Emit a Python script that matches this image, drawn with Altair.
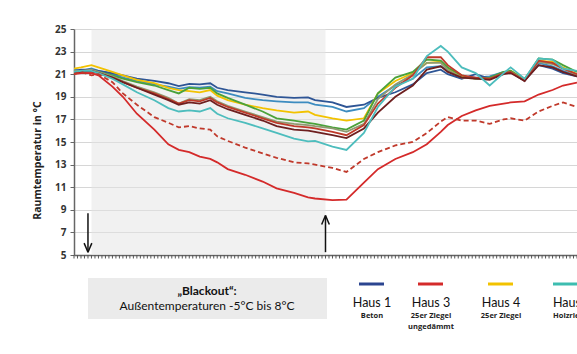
import altair as alt
import pandas as pd

# time index (hours) and room temperatures (°C)
hours = [0, 2, 5, 7, 11, 14, 18, 23, 27, 30, 33, 36, 39, 41, 44, 49, 54, 58, 63, 67,
         69, 74, 78, 83, 87, 92, 97, 101, 105, 107, 111, 115, 119, 123, 125, 129, 133, 137, 140, 144]

haus1 = [21.3, 21.4, 21.4, 21.3, 21.1, 20.9, 20.6, 20.4, 20.2, 19.95, 20.15, 20.1, 20.2, 19.8, 19.6, 19.4, 19.2, 19.0, 18.9, 18.95,
         18.7, 18.5, 18.1, 18.3, 18.9, 19.4, 20.1, 21.1, 21.4, 21.0, 20.6, 21.0, 20.6, 21.1, 21.2, 20.5, 21.8, 21.5, 21.1, 20.8]
hellblau = [21.4, 21.3, 21.5, 21.3, 21.0, 20.7, 20.4, 20.1, 19.9, 19.7, 19.85, 19.8, 19.9, 19.5, 19.3, 18.9, 18.7, 18.6, 18.5, 18.5,
            18.3, 18.1, 17.7, 18.0, 19.0, 20.0, 20.6, 21.6, 21.7, 21.3, 20.8, 20.7, 20.8, 21.2, 21.2, 20.4, 22.0, 21.7, 21.3, 20.9]
gelb = [21.5, 21.6, 21.8, 21.6, 21.2, 20.9, 20.5, 20.2, 19.8, 19.6, 19.5, 19.4, 19.6, 19.1, 18.7, 18.3, 18.0, 17.8, 17.6, 17.7,
        17.4, 17.1, 16.9, 17.1, 19.3, 20.4, 21.1, 22.0, 22.1, 21.5, 20.8, 20.6, 20.6, 21.1, 21.3, 20.6, 22.2, 22.1, 21.6, 21.0]
gruen = [21.2, 21.3, 21.3, 21.2, 20.9, 20.6, 20.3, 20.0, 19.6, 19.3, 19.8, 19.7, 19.8, 19.3, 18.9, 18.3, 17.7, 17.1, 16.9, 16.7,
         16.6, 16.3, 16.1, 16.9, 19.3, 20.7, 21.2, 22.3, 22.2, 21.6, 20.9, 20.6, 20.7, 21.2, 21.3, 20.5, 22.4, 22.3, 21.8, 21.2]
oliv = [21.3, 21.3, 21.4, 21.2, 20.8, 20.4, 19.9, 19.4, 18.9, 18.4, 18.8, 18.7, 19.0, 18.6, 18.2, 17.7, 17.2, 16.8, 16.6, 16.5,
        16.4, 16.2, 15.9, 16.6, 18.8, 20.1, 21.0, 22.0, 22.0, 21.4, 20.7, 20.6, 20.6, 21.1, 21.2, 20.5, 22.1, 21.9, 21.5, 20.9]
rotbraun = [21.1, 21.2, 21.2, 21.1, 20.7, 20.3, 19.8, 19.3, 18.8, 18.4, 18.7, 18.6, 18.9, 18.5, 18.1, 17.6, 17.1, 16.7, 16.4, 16.3,
            16.2, 15.9, 15.6, 16.5, 18.4, 19.8, 20.9, 22.5, 22.5, 21.8, 20.9, 20.7, 20.6, 21.1, 21.2, 20.4, 22.2, 22.0, 21.5, 21.0]
dunkelrot = [21.2, 21.2, 21.3, 21.1, 20.7, 20.3, 19.8, 19.2, 18.7, 18.3, 18.5, 18.4, 18.7, 18.3, 17.9, 17.4, 16.9, 16.4, 16.1, 16.0,
             15.9, 15.6, 15.35, 16.2, 17.6, 19.0, 20.0, 21.4, 21.7, 21.2, 20.7, 20.6, 20.5, 21.0, 21.1, 20.4, 21.8, 21.6, 21.2, 20.8]
tuerkis = [21.2, 21.3, 21.3, 21.1, 20.6, 20.1, 19.4, 18.7, 18.0, 17.7, 17.8, 17.7, 18.0, 17.5, 17.1, 16.7, 16.2, 15.8, 15.3, 15.05,
           15.1, 14.6, 14.3, 15.8, 18.1, 19.9, 20.6, 22.6, 23.5, 23.0, 21.6, 21.1, 20.0, 21.1, 21.6, 20.6, 22.4, 22.3, 21.5, 21.3]
haus3 = [21.0, 21.1, 21.1, 20.9, 19.9, 19.0, 17.5, 16.1, 14.8, 14.3, 14.1, 13.7, 13.5, 13.2, 12.6, 12.1, 11.5, 10.9, 10.5, 10.1,
         10.0, 9.85, 9.9, 11.4, 12.6, 13.5, 14.1, 14.8, 15.9, 16.5, 17.3, 17.8, 18.2, 18.4, 18.5, 18.6, 19.2, 19.6, 20.0, 20.25]
gestrichelt = [21.0, 21.2, 20.9, 21.0, 20.3, 19.3, 18.3, 17.2, 16.7, 16.3, 16.4, 16.2, 16.1, 15.5, 15.1, 14.5, 14.0, 13.6, 13.2, 13.1,
               13.0, 12.7, 12.35, 13.5, 14.1, 14.7, 15.0, 15.8, 16.8, 17.2, 16.9, 16.9, 16.6, 17.0, 17.1, 16.9, 17.7, 18.2, 18.5, 18.1]

solid_names = ["Hellblau", "Haus 1", "Gelb", "Grün", "Oliv", "Rotbraun", "Dunkelrot", "Türkis", "Haus 3"]
solid_values = [hellblau, haus1, gelb, gruen, oliv, rotbraun, dunkelrot, tuerkis, haus3]
solid_colors = ["#3d8cc0", "#2e5595", "#f2c200", "#4aa23a", "#8f9a70", "#bf3a2a", "#6e1f1f", "#4dbdbd", "#d42a2a"]

blackout_start, blackout_end = 5, 72
arrow_down_hour, arrow_up_hour = 4, 72
tick_hours = list(range(0, 145))

legend_names = ["Haus 1", "Haus 3", "Haus 4", "Haus 5"]
legend_sub1 = ["Beton", "25er Ziegel", "25er Ziegel", "Holzriegel"]
legend_sub2 = ["", "ungedämmt", "", ""]
legend_colors = ["#2b4590", "#d42a2a", "#f2c200", "#3dbdb0"]

rows = []
for n, vals in zip(solid_names, solid_values):
    for h, v in zip(hours, vals):
        rows.append({"hour": h, "temp": v, "serie": n})
df_solid = pd.DataFrame(rows)
df_dash = pd.DataFrame({"hour": hours, "temp": gestrichelt})

xs = alt.Scale(domain=[0, 144], nice=False, zero=False)
ys = alt.Scale(domain=[5, 25], nice=False, zero=False)

x_axis = alt.Axis(values=tick_hours, labels=False, labelOverlap=False, title=None, grid=False,
                  ticks=False, domainColor="#666", domainWidth=1.5)
y_axis = alt.Axis(values=list(range(5, 26, 2)), title="Raumtemperatur  in °C", grid=True,
                  gridColor="#d6d6d6", gridWidth=1, tickSize=4, tickColor="#666", domainColor="#666",
                  domainWidth=1.5, labelFont="Open Sans", labelFontWeight="bold", labelFontSize=10,
                  labelColor="#333", labelPadding=4, labelOverlap=False,
                  titleFont="Open Sans", titleFontWeight="bold",
                  titleFontSize=10.5, titleColor="#222", titleX=-37, titleY=131, titleAngle=270,
                  titleAlign="center", titleBaseline="middle")

X = alt.X("hour:Q", scale=xs, axis=x_axis)
Y = alt.Y("temp:Q", scale=ys, axis=y_axis)

shade = alt.Chart(pd.DataFrame({"hour": [blackout_start], "hour_end": [blackout_end],
                                "temp": [5], "temp_end": [25]})).mark_rect(
    color="#e4e4e4", opacity=0.5).encode(x=X, x2="hour_end:Q", y=Y, y2="temp_end:Q")

# small hourly ticks under the time axis
ticks = alt.Chart(pd.DataFrame({"hour": tick_hours})).mark_rule(color="#555", strokeWidth=1).encode(
    x=X, y=alt.value(226), y2=alt.value(229.5))

lines = alt.Chart(df_solid).mark_line(strokeWidth=1.8).encode(
    x=X, y=Y,
    color=alt.Color("serie:N", scale=alt.Scale(domain=solid_names, range=solid_colors), legend=None),
    order="hour:Q")

dashed = alt.Chart(df_dash).mark_line(strokeWidth=1.8, strokeDash=[5, 3], color="#c0392b").encode(
    x=X, y=Y)

# arrows (shaft + chevron) at start and end of the blackout
arrow_rows = [
    {"hour": arrow_down_hour, "hour_end": arrow_down_hour, "temp": 8.7, "temp_end": 5.25},
    {"hour": arrow_down_hour, "hour_end": arrow_down_hour - 1.1, "temp": 5.25, "temp_end": 6.05},
    {"hour": arrow_down_hour, "hour_end": arrow_down_hour + 1.1, "temp": 5.25, "temp_end": 6.05},
    {"hour": arrow_up_hour, "hour_end": arrow_up_hour, "temp": 5.25, "temp_end": 8.5},
    {"hour": arrow_up_hour, "hour_end": arrow_up_hour - 1.1, "temp": 8.5, "temp_end": 7.7},
    {"hour": arrow_up_hour, "hour_end": arrow_up_hour + 1.1, "temp": 8.5, "temp_end": 7.7},
]
arrows = alt.Chart(pd.DataFrame(arrow_rows)).mark_rule(color="#111", strokeWidth=1.5).encode(
    x=X, x2="hour_end:Q", y=Y, y2="temp_end:Q")

one = pd.DataFrame({"a": [0]})

box = alt.Chart(one).mark_rect(color="#ebebeb").encode(
    x=alt.value(14), x2=alt.value(253), y=alt.value(249), y2=alt.value(290))
box_t1 = alt.Chart(one).mark_text(text="„Blackout“:", font="Lato", fontWeight="bold", fontSize=12,
                                  color="#111", align="center", baseline="middle").encode(
    x=alt.value(133), y=alt.value(262))
box_t2 = alt.Chart(one).mark_text(text="Außentemperaturen -5°C bis 8°C", font="Lato", fontSize=12,
                                  color="#111", align="center", baseline="middle").encode(
    x=alt.value(133), y=alt.value(276.5))

leg_x = [285, 344, 414, 479]
leg_layers = []
for i, (nm, s1, s2, col) in enumerate(zip(legend_names, legend_sub1, legend_sub2, legend_colors)):
    x0 = leg_x[i]
    leg_layers.append(alt.Chart(one).mark_rule(color=col, strokeWidth=3).encode(
        x=alt.value(x0), x2=alt.value(x0 + 25), y=alt.value(255)))
    if i < 3:
        cx, al = x0 + 13, "center"
    else:
        cx, al = x0, "left"
    leg_layers.append(alt.Chart(one).mark_text(text=nm, font="Lato", fontSize=12.5, color="#111",
                                               align=al, baseline="middle").encode(
        x=alt.value(cx), y=alt.value(274)))
    leg_layers.append(alt.Chart(one).mark_text(text=s1, font="Open Sans", fontSize=7.5, fontWeight="bold",
                                               color="#222", align=al, baseline="middle").encode(
        x=alt.value(cx), y=alt.value(287)))
    if s2:
        leg_layers.append(alt.Chart(one).mark_text(text=s2, font="Open Sans", fontSize=7.5, fontWeight="bold",
                                                   color="#222", align=al, baseline="middle").encode(
            x=alt.value(cx), y=alt.value(298)))

chart = alt.layer(shade, ticks, lines, dashed, arrows, box, box_t1, box_t2, *leg_layers).properties(
    width=503, height=226,
    autosize=alt.AutoSizeParams(type="none"),
    padding={"left": 74, "top": 29, "right": 0, "bottom": 99},
    background="white",
).configure_view(stroke=None)

chart.save("out.html", embed_options={"renderer": "svg", "actions": False})
